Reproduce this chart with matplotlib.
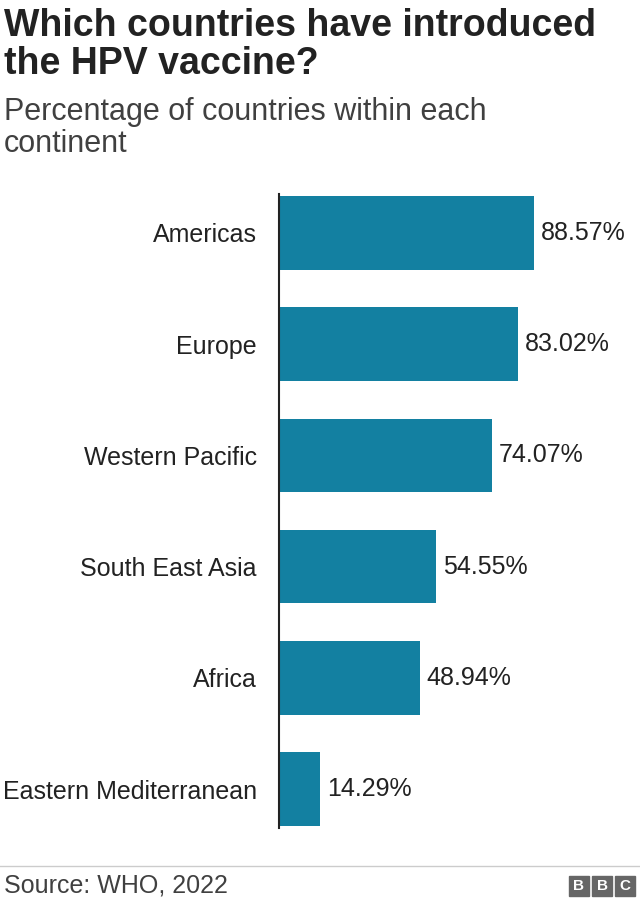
import matplotlib.pyplot as plt
from matplotlib.patches import Rectangle

regions = ["Americas", "Europe", "Western Pacific", "South East Asia", "Africa",
           "Eastern Mediterranean"]
pct_introduced = [88.57, 83.02, 74.07, 54.55, 48.94, 14.29]

plt.rcParams["font.family"] = ["Liberation Sans", "DejaVu Sans"]

W, H = 640, 907
fig = plt.figure(figsize=(W / 100, H / 100), dpi=100)

ax = fig.add_axes([279 / W, (H - 828) / H, 360 / W, 634 / H])
ypos = list(range(len(regions)))
ax.barh(ypos, pct_introduced, height=0.66, color="#1380a1")
for y, v in zip(ypos, pct_introduced):
    ax.text(v + 2.4, y, f"{v:.2f}%", va="center", ha="left", fontsize=18, color="#222222")
ax.set_xlim(0, 125)
ax.set_ylim(5.35, -0.35)
ax.set_yticks(ypos)
ax.set_yticklabels(regions, fontsize=18, color="#222222")
ax.tick_params(axis="y", length=0, pad=16)
ax.set_xticks([])
for side in ["top", "right", "bottom"]:
    ax.spines[side].set_visible(False)
ax.spines["left"].set_linewidth(1.5)
ax.spines["left"].set_color("#222222")

fig.text(4 / W, 1 - 45 / H, "Which countries have introduced\nthe HPV vaccine?",
         fontsize=27, fontweight="bold", va="center", ha="left", linespacing=1.05,
         color="#222222")
fig.text(4 / W, 1 - 128 / H, "Percentage of countries within each\ncontinent",
         fontsize=22, va="center", ha="left", linespacing=1.1, color="#404040")

fig.add_artist(plt.Line2D([0, 1], [1 - 866 / H] * 2, color="#cccccc", lw=1))
fig.text(4 / W, 1 - 885 / H, "Source: WHO, 2022", fontsize=18, va="center",
         ha="left", color="#404040")

# BBC blocks
for i, letter in enumerate("BBC"):
    x0 = 569 + i * 23
    fig.add_artist(Rectangle((x0 / W, 1 - 896 / H), 20 / W, 20 / H,
                             transform=fig.transFigure, color="#666666"))
    fig.text((x0 + 10) / W, 1 - 886 / H, letter, fontsize=11, fontweight="bold",
             color="white", ha="center", va="center")

fig.savefig("out.png", dpi=100)
